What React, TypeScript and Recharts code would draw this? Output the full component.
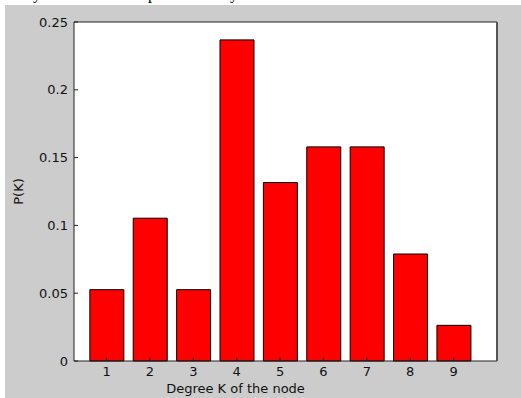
import React from 'react';
import { BarChart, Bar, XAxis, YAxis, CartesianGrid } from 'recharts';

const degrees = [1, 2, 3, 4, 5, 6, 7, 8, 9];
const probabilities = [0.0526, 0.1053, 0.0526, 0.2368, 0.1316, 0.1579, 0.1579, 0.0789, 0.0263];
const xTicks = [1, 2, 3, 4, 5, 6, 7, 8, 9];
const yTicks = [0, 0.05, 0.1, 0.15, 0.2, 0.25];
const yTickLabels = ['0', '0.05', '0.1', '0.15', '0.2', '0.25'];
const xLabel = 'Degree K of the node';
const yLabel = 'P(K)';

const data = degrees.map((k, i) => ({ k, p: probabilities[i] }));

const FONT = '"DejaVu Sans", sans-serif';
const tickStyle = { fontFamily: FONT, fontSize: 13, fill: '#111' };

export default function App() {
  return (
    <div style={{ position: 'absolute', left: 0, top: 0, width: 521, height: 398, background: '#fff', overflow: 'hidden' }}>
      <svg style={{ position: 'absolute', left: 0, top: 0 }} width={521} height={5}>
        <text x={33} y={-1} fontFamily='"Liberation Serif", serif' fontSize={16} fill="#000">y</text>
        <text x={148} y={-1} fontFamily='"Liberation Serif", serif' fontSize={16} fill="#000">p</text>
        <text x={230} y={-1} fontFamily='"Liberation Serif", serif' fontSize={16} fill="#000">y</text>
      </svg>
      <div style={{ position: 'absolute', left: 5, top: 5, width: 516, height: 393, background: '#cccccc' }} />
      <div style={{ position: 'absolute', left: 0, top: 0 }}>
        <BarChart width={521} height={398} data={data} margin={{ top: 2, right: 0, bottom: 0, left: 0 }}>
          <CartesianGrid fill="#ffffff" horizontal={false} vertical={false} />
          <XAxis
            xAxisId="b"
            dataKey="k"
            type="number"
            domain={[0.25, 10]}
            allowDataOverflow
            ticks={xTicks}
            interval={0}
            height={37}
            tickSize={-4}
            tickMargin={10}
            axisLine={{ stroke: '#222' }}
            tickLine={{ stroke: '#222' }}
            tick={tickStyle}
            label={{ value: xLabel, position: 'insideBottom', offset: 5, dx: -50, style: { fontFamily: FONT, fontSize: 13, fill: '#111' } }}
          />
          <XAxis
            xAxisId="t"
            orientation="top"
            dataKey="k"
            type="number"
            domain={[0.25, 10]}
            allowDataOverflow
            ticks={xTicks}
            interval={0}
            height={20}
            tickSize={-4}
            tick={false}
            axisLine={{ stroke: '#222' }}
            tickLine={{ stroke: '#222' }}
          />
          <YAxis
            yAxisId="l"
            type="number"
            domain={[0, 0.25]}
            ticks={yTicks}
            interval={0}
            width={74}
            tickSize={-4}
            tickMargin={10}
            tickFormatter={(v: number) => yTickLabels[yTicks.indexOf(v)] ?? String(v)}
            axisLine={{ stroke: '#222' }}
            tickLine={{ stroke: '#222' }}
            tick={tickStyle}
            label={{ value: yLabel, angle: -90, position: 'center', dx: -19, style: { fontFamily: FONT, fontSize: 13, fill: '#111', textAnchor: 'middle' } }}
          />
          <YAxis
            yAxisId="r"
            orientation="right"
            type="number"
            domain={[0, 0.25]}
            ticks={yTicks}
            interval={0}
            width={24}
            tickSize={-5}
            tick={false}
            axisLine={{ stroke: '#555', strokeWidth: 2 }}
            tickLine={{ stroke: '#555' }}
          />
          <Bar
            xAxisId="b"
            yAxisId="l"
            dataKey="p"
            fill="#ff0000"
            stroke="#000"
            strokeWidth={1}
            barSize={34}
            isAnimationActive={false}
          />
        </BarChart>
      </div>
    </div>
  );
}
